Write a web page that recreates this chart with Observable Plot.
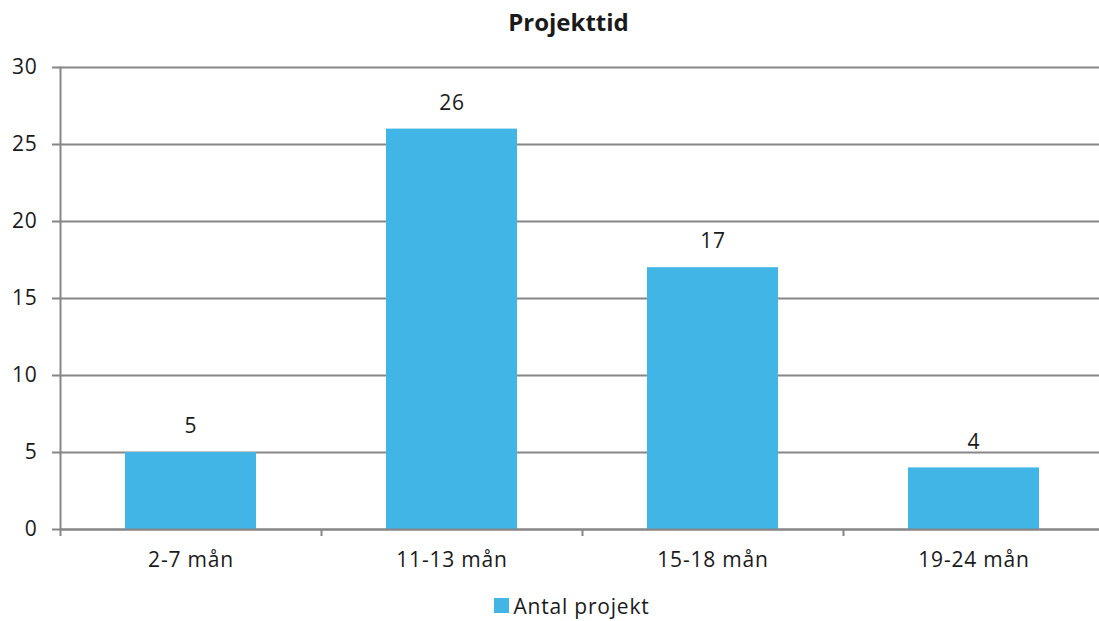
<!DOCTYPE html>
<html>
<head>
<meta charset="utf-8">
<script src="https://cdn.jsdelivr.net/npm/d3@7"></script>
<script src="https://cdn.jsdelivr.net/npm/@observablehq/plot@0.6"></script>
<style>
  body { margin: 0; background: #fff; font-family: "Open Sans", sans-serif; color: #1a1a1a; }
  #title { height: 45px; line-height: 44px; font-weight: bold; font-size: 24px; text-align: center; padding-left: 38px; box-sizing: border-box; width: 1099px; }
  #legend { height: 31px; display: flex; align-items: center; justify-content: center; width: 1099px; padding-left: 45px; box-sizing: border-box; font-size: 21px; letter-spacing: 0.8px; }
  #legend .sw { width: 15px; height: 15px; background: #41b6e6; margin-right: 4px; }
  svg text { letter-spacing: 0.8px; }
</style>
</head>
<body>
<div id="title">Projekttid</div>
<div id="chart"></div>
<div id="legend"><span class="sw"></span><span>Antal projekt</span></div>
<script>
const categories = ["2-7 mån", "11-13 mån", "15-18 mån", "19-24 mån"];
const values = [5, 26, 17, 4];
const yTicks = [0, 5, 10, 15, 20, 25, 30];
const seriesName = "Antal projekt";

const data = categories.map((c, i) => ({cat: c, value: values[i]}));
const grid = "#868686";

const chart = Plot.plot({
  width: 1099,
  height: 545,
  marginLeft: 60,
  marginRight: 0,
  marginTop: 22,
  marginBottom: 61,
  style: {fontFamily: "'Open Sans', sans-serif", fontSize: "21px", color: "#1a1a1a", background: "#fff"},
  x: {domain: categories, range: [60, 1104], paddingInner: 0.5, paddingOuter: 0.25, align: 0.5, label: null},
  y: {domain: [0, 30], ticks: yTicks, label: null},
  marks: [
    Plot.gridY(yTicks, {stroke: grid, strokeOpacity: 1, strokeWidth: 2}),
    Plot.axisY(yTicks, {tickSize: 8, tickPadding: 15, stroke: grid, strokeWidth: 2, fontSize: 21, label: null}),
    Plot.barY(data, {x: "cat", y: "value", fill: "#41b6e6"}),
    Plot.ruleY([0], {stroke: grid, strokeWidth: 2}),
    Plot.frame({anchor: "left", stroke: grid, strokeWidth: 2}),
    Plot.axisX({tickSize: 7, dx: -130.5, stroke: grid, strokeWidth: 2, text: null, label: null}),
    Plot.axisX({tickSize: 0, tickPadding: 23, fontSize: 21, label: null}),
    Plot.text(data, {x: "cat", y: "value", text: d => String(d.value), dy: -26, fontSize: 21, fill: "#1a1a1a"})
  ]
});
document.getElementById("chart").appendChild(chart);
</script>
</body>
</html>
